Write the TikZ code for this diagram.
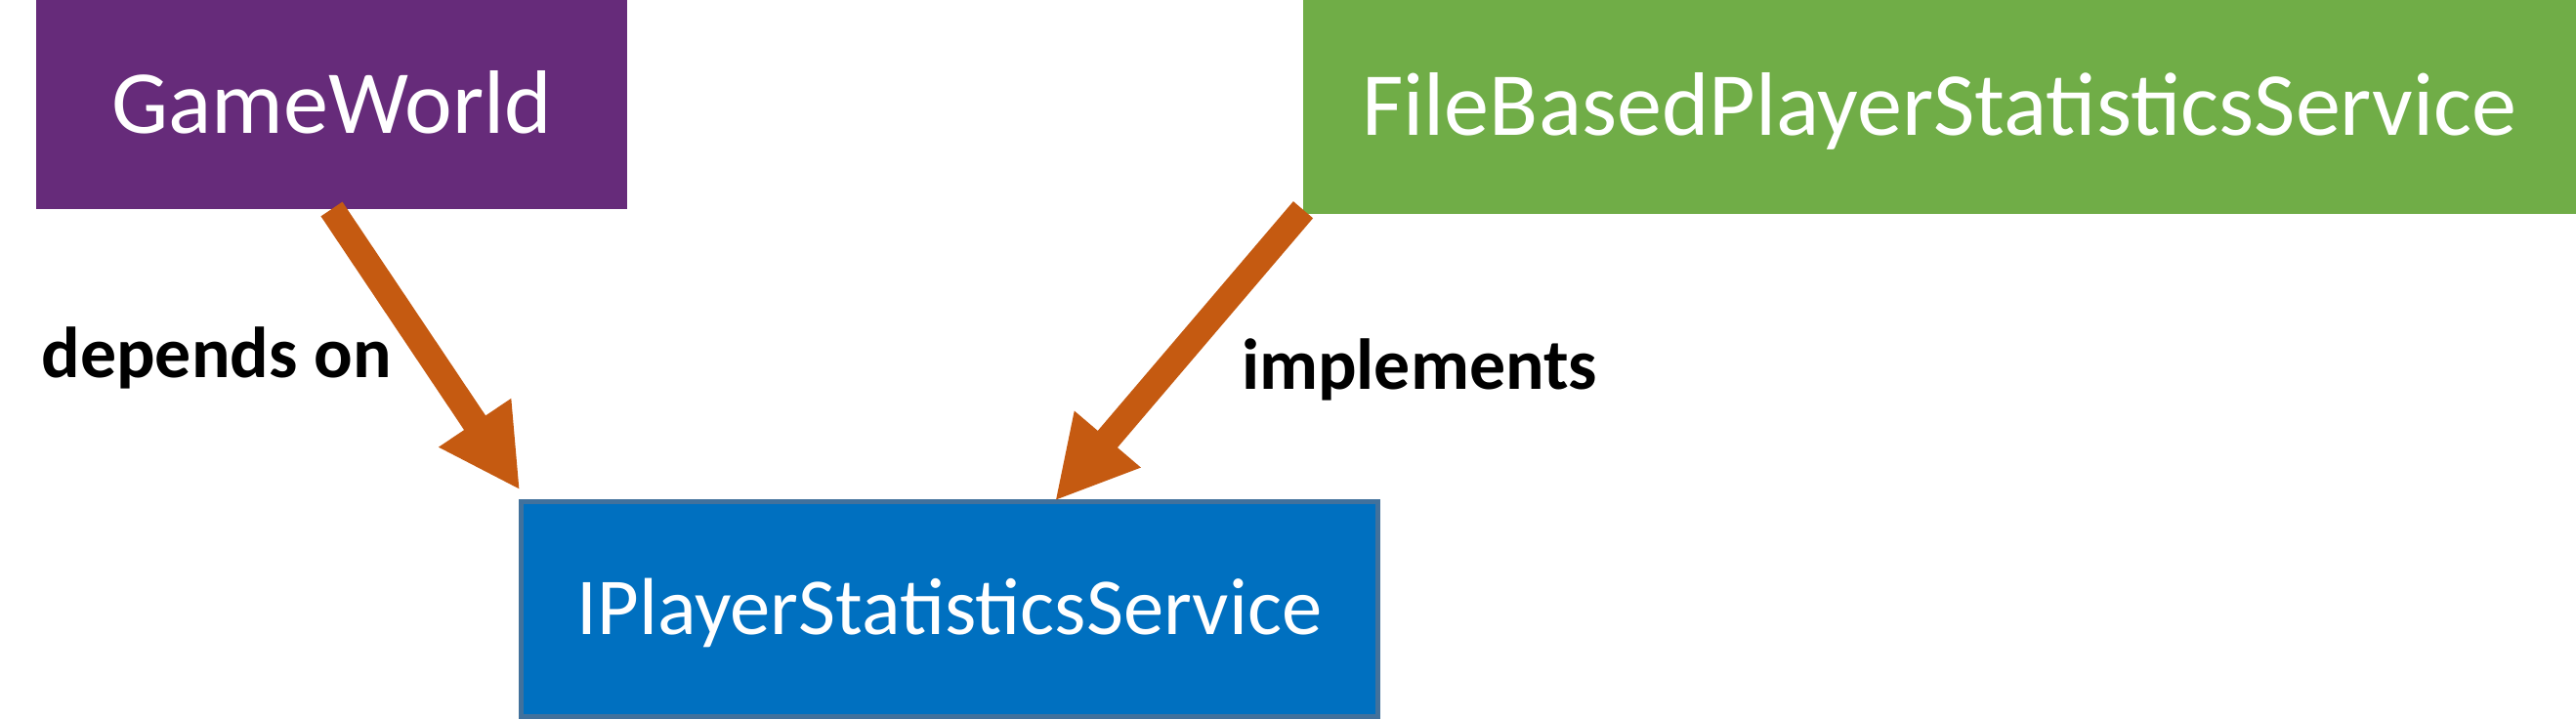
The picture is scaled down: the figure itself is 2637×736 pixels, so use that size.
\documentclass[tikz,border=0pt]{standalone}
\usepackage{fontspec}
\setmainfont{Carlito}
\usetikzlibrary{arrows.meta,calc}
\definecolor{gwpurple}{HTML}{662B7A}
\definecolor{fbgreen}{HTML}{70AD47}
\definecolor{ipblue}{HTML}{0070C0}
\definecolor{ipborder}{HTML}{41719C}
\definecolor{arrorange}{HTML}{C55A11}
\begin{document}
\begin{tikzpicture}[x=0.3mm,y=-0.3mm,
  box/.style={inner sep=0pt, outer sep=0pt, text=white, text depth=0pt},
  bigtext/.style={font=\fontsize{78.7}{92}\selectfont, text height=49.7pt},
  lbl/.style={inner sep=0pt, outer sep=0pt, anchor=base west, font=\fontsize{63}{72}\selectfont\bfseries},
  dep/.style={draw=arrorange, line width=7.95mm, -{Triangle[length=24.9mm,width=24.9mm]}}]
\useasboundingbox (0,0) rectangle (2637,736);
\node[box, bigtext, fill=gwpurple, minimum width=181.5mm, minimum height=64.2mm] (gw) at (339.5,107) {GameWorld};
\node[box, bigtext, fill=fbgreen, minimum width=390.9mm, minimum height=65.7mm] (fb) at (1985.5,109.5) {FileBasedPlayerStatisticsService};
\node[box, fill=ipblue, draw=ipborder, line width=1.5mm, minimum width=263.1mm, minimum height=66mm,
      font=\fontsize{70.6}{82}\selectfont, text height=44.6pt] (ip) at (972,623.5) {IPlayerStatisticsService};
\draw[dep] (gw.south) -- ($(ip.north west)+(-1.2,-11.8)$);
\draw[dep] ($(fb.south west)+(0,-4.3)$) -- ($(ip.north west)+(546.5,-0.8)$);
\node[lbl] (dl) at (42.5,386.7) {depends on};
\node[lbl] (il) at (1271,398.3) {implements};
\end{tikzpicture}
\end{document}
